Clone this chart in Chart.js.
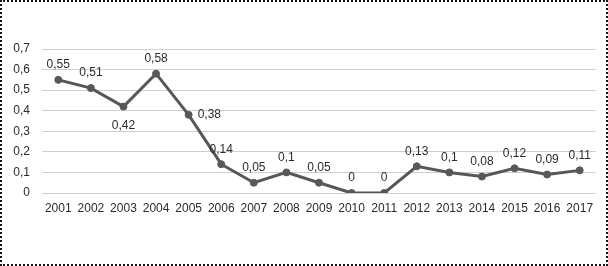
<!DOCTYPE html>
<html>
<head>
<meta charset="utf-8">
<script src="https://cdn.jsdelivr.net/npm/chart.js@4"></script>
<style>
  body { margin: 0; background: #fff; }
  #wrap { position: relative; width: 608px; height: 266px; }
  #wrap canvas { position: absolute; left: 0; top: 0; }
  #frame { position: absolute; left: 0; top: 0; width: 608px; height: 266px;
           box-sizing: border-box; border: 2px dotted #1a1212; pointer-events: none; }
</style>
</head>
<body>
<div id="wrap">
  <canvas id="chart" width="608" height="266"></canvas>
  <div id="frame"></div>
</div>
<script>
    'use strict';

    // data
    var years = ['2001', '2002', '2003', '2004', '2005', '2006', '2007', '2008', '2009',
                 '2010', '2011', '2012', '2013', '2014', '2015', '2016', '2017'];
    var values = [0.55, 0.51, 0.42, 0.58, 0.38, 0.14, 0.05, 0.1, 0.05,
                  0, 0, 0.13, 0.1, 0.08, 0.12, 0.09, 0.11];
    var yTicks = [0, 0.1, 0.2, 0.3, 0.4, 0.5, 0.6, 0.7];
    // where each value label sits relative to its point
    var labelPos = ['top', 'top', 'bottom', 'top', 'right', 'top', 'top', 'top', 'top',
                    'top', 'top', 'top', 'top', 'top', 'top', 'top', 'top'];

    var fmt = function (v) {
        return String(v).replace('.', ',');
    };

    var textColor = '#2b2b2b';
    var fontFamily = '"Liberation Sans", Arial, sans-serif';

    // simple value labels
    var valueLabels = {
        id: 'valueLabels',
        afterDatasetsDraw: function (chart) {
            var ctx = chart.ctx;
            var meta = chart.getDatasetMeta(0);
            ctx.save();
            ctx.font = '12px ' + fontFamily;
            ctx.fillStyle = textColor;
            ctx.textBaseline = 'middle';
            for (var i = 0; i < meta.data.length; i++) {
                var p = meta.data[i];
                var x = p.x, y = p.y;
                ctx.textAlign = 'center';
                if (labelPos[i] === 'top') {
                    y -= 15;
                } else if (labelPos[i] === 'bottom') {
                    y += 19;
                } else if (labelPos[i] === 'right') {
                    x += 9;
                    ctx.textAlign = 'left';
                }
                ctx.fillText(fmt(values[i]), x, y);
            }
            ctx.restore();
        }
    };

    var ctx = document.getElementById('chart');
    var chart = new Chart(ctx, {
        type: 'line',
        data: {
            labels: years,
            datasets: [{
                data: values,
                borderColor: '#575757',
                backgroundColor: '#575757',
                borderWidth: 3,
                pointRadius: 3.5,
                pointBackgroundColor: '#585858',
                pointBorderColor: '#585858',
                pointBorderWidth: 1,
                tension: 0
            }]
        },
        options: {
            responsive: false,
            animation: false,
            layout: { padding: { left: 8, right: 12, top: 49, bottom: 0 } },
            plugins: {
                legend: { display: false },
                tooltip: { enabled: false }
            },
            scales: {
                x: {
                    offset: true,
                    grid: { display: false, drawTicks: false },
                    border: { display: false },
                    ticks: {
                        color: textColor,
                        font: { family: fontFamily, size: 12 },
                        padding: 8,
                        maxRotation: 0,
                        autoSkip: false
                    },
                    afterFit: function (scale) { scale.height = 73; }
                },
                y: {
                    min: 0,
                    max: 0.7,
                    grid: { color: '#cfcfcf', lineWidth: 1, drawTicks: false },
                    border: { display: false },
                    afterBuildTicks: function (scale) {
                        scale.ticks = yTicks.map(function (v) { return { value: v }; });
                    },
                    ticks: {
                        color: textColor,
                        font: { family: fontFamily, size: 12 },
                        padding: 12,
                        callback: function (v) { return fmt(Math.round(v * 10) / 10); }
                    },
                    afterFit: function (scale) { scale.width = 34; }
                }
            }
        },
        plugins: [valueLabels]
    });
</script>
</body>
</html>
